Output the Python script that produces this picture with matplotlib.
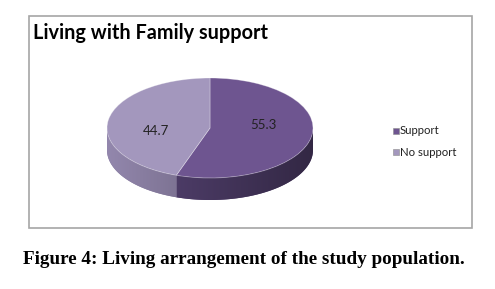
import numpy as np
import matplotlib.pyplot as plt
from matplotlib.colors import to_rgb
from matplotlib.patches import Rectangle, Polygon

categories = ["Support", "No support"]
values = [55.3, 44.7]
top_colors = ["#6e5590", "#a397bd"]
side_colors = ["#52406e", "#887da0"]

title = "Living with Family support"
caption = "Figure 4: Living arrangement of the study population."

W, H = 495, 289
fig = plt.figure(figsize=(W / 100, H / 100), dpi=100)

# background axes in pixel coords for frame and texts
bg = fig.add_axes([0, 0, 1, 1])
bg.set_xlim(0, W)
bg.set_ylim(H, 0)
bg.axis("off")
bg.add_patch(Rectangle((29, 16), 443, 212, fill=False, ec="#a6a6a6", lw=1.2))
bg.text(33, 33, title, fontsize=14.3, fontweight="bold", family="Lato",
        va="center", ha="left", color="black")
bg.text(244, 260, caption, fontsize=13.8, fontweight="bold",
        family="Liberation Serif", va="center", ha="center", color="black")

# pie geometry in pixels
cx, cy, a, b, depth = 210, 128, 103, 50, 22
left, right = cx - 115, cx + 115
top, bottom = cy - 60, cy + b + depth + 10
ax = fig.add_axes([left / W, 1 - bottom / H, (right - left) / W, (bottom - top) / H])

wedges, texts, autotexts = ax.pie(
    values, colors=top_colors, startangle=90, counterclock=False,
    autopct=lambda p: "%.1f" % p, pctdistance=0.53,
    wedgeprops=dict(linewidth=0.6, edgecolor=(1, 1, 1, 0.35)),
    textprops=dict(fontsize=9.5, family="Lato", color="#222222"),
    radius=1.0, center=(0, 0), frame=False,
)
for w in wedges:
    w.set_zorder(3)
# nudge labels to where the 3D chart puts them
for t, dy in zip(autotexts, [0.15, -0.15]):
    x, y = t.get_position()
    t.set_position((x, y + dy))
    t.set_zorder(4)

ax.set_aspect("auto")
xlim = ((left - cx) / a, (right - cx) / a)
ylim = (-(bottom - cy) / b, (cy - top) / b)
ax.axis("off")

# side of the cylinder, front half only, with a left-to-right shading
d = depth / b
shade = np.linspace(1.08, 0.62, 256)
start = 90.0
for v, col in zip(values, side_colors):
    end = start - 360 * v / sum(values)
    t0, t1 = end % 360, start % 360
    if t1 <= t0:
        t1 += 360
    start = end
    ts = np.linspace(t0, t1, 400)
    ts = ts[ts % 360 >= 180]
    if len(ts) < 2:
        continue
    th = np.radians(ts)
    xs = np.concatenate([np.cos(th), np.cos(th[::-1])])
    ys = np.concatenate([np.sin(th), np.sin(th[::-1]) - d])
    poly = Polygon(np.column_stack([xs, ys]), closed=True, fc=col, lw=0, zorder=2)
    ax.add_patch(poly)
    img = np.clip(np.array(to_rgb(col))[None, None, :] * shade[None, :, None], 0, 1)
    im = ax.imshow(img, extent=(-1, 1, -1 - d, 0.2), aspect="auto",
                   interpolation="bilinear", zorder=2)
    im.set_clip_path(poly)

ax.set_xlim(*xlim)
ax.set_ylim(*ylim)

# legend
for i, (lab, col) in enumerate(zip(categories, top_colors)):
    y = 131 + 21 * i
    bg.add_patch(Rectangle((393, y - 3), 6, 6, fc=col, ec="#8c8c8c", lw=0.4))
    bg.text(400, y, lab, fontsize=8.2, family="Lato", va="center", ha="left",
            color="#222222")

fig.savefig("out.png", dpi=100)
